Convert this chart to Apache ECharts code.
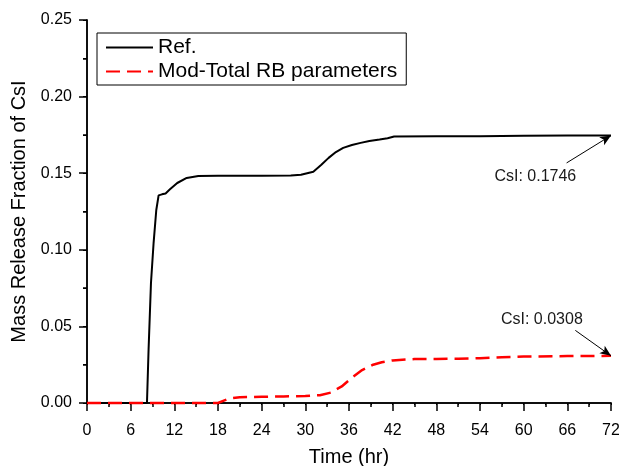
<!DOCTYPE html>
<html>
<head>
<meta charset="utf-8">
<script src="https://cdn.jsdelivr.net/npm/echarts@6/dist/echarts.min.js"></script>
<style>
  html, body { margin: 0; padding: 0; background: #fff; }
  #chart { width: 619px; height: 466px; }
</style>
</head>
<body>
<div id="chart"></div>
<script>
// Ref. curve (time in hr, mass release fraction)
const refTime  = [0, 8.24, 8.46, 8.79, 9.15, 9.52, 9.84, 10.3, 10.8, 11.4, 12.4, 13.7, 15.3, 18, 24, 28, 29.4, 31.1, 32.2, 33.2, 34.2, 35.2, 36.4, 37.6, 38.8, 40.2, 41.3, 42.2, 48, 54, 60, 66, 72];
const refValue = [0, 0, 0.0348, 0.0783, 0.1044, 0.126, 0.1355, 0.1362, 0.1368, 0.1395, 0.1436, 0.1469, 0.1482, 0.1483, 0.1483, 0.1485, 0.149, 0.151, 0.1555, 0.1600, 0.1638, 0.1665, 0.1684, 0.1698, 0.1710, 0.1720, 0.1728, 0.1740, 0.1741, 0.1742, 0.1745, 0.1746, 0.1746];

// Mod-Total RB parameters curve
const modTime  = [0, 18, 18.8, 19.6, 21, 24, 27, 30, 32, 33.5, 35, 36.4, 37.8, 39.2, 40.5, 42, 45, 48, 51, 54, 57, 60, 66, 72];
const modValue = [0, 0, 0.0015, 0.003, 0.0038, 0.0041, 0.0043, 0.0045, 0.0051, 0.0068, 0.0108, 0.0165, 0.0215, 0.0248, 0.0266, 0.0278, 0.0287, 0.0288, 0.0289, 0.0292, 0.0298, 0.0303, 0.0306, 0.0308];

// annotations: text centre, arrow start, arrow end (data coords)
const refNote = { text: 'CsI: 0.1746', at: [61.6, 0.1477], from: [65.9, 0.1567], to: [72, 0.1746] };
const modNote = { text: 'CsI: 0.0308', at: [62.5, 0.0544], from: [67.1, 0.0474], to: [72, 0.0308] };

const FONT = 'Liberation Sans, Arial, sans-serif';

function pairs(xs, ys) {
  return xs.map((x, i) => [x, ys[i]]);
}

function note(n) {
  return {
    markLine: {
      silent: true,
      animation: false,
      symbol: ['none', 'arrow'],
      symbolSize: [7, 11],
      label: { show: false },
      lineStyle: { color: '#000', width: 1, type: 'solid' },
      itemStyle: { color: '#000' },
      data: [[{ coord: n.from }, { coord: n.to }]]
    },
    markPoint: {
      silent: true,
      animation: false,
      symbol: 'circle',
      symbolSize: 1,
      itemStyle: { color: 'rgba(0,0,0,0)' },
      label: {
        show: true,
        position: 'inside',
        formatter: n.text,
        color: '#1a1a1a',
        fontSize: 16,
        fontFamily: FONT
      },
      data: [{ coord: n.at }]
    }
  };
}

const chart = echarts.init(document.getElementById('chart'));

const axisLine = { show: true, lineStyle: { color: '#000', width: 1.5 } };

const option = {
  animation: false,
  backgroundColor: '#fff',
  textStyle: { fontFamily: FONT },
  grid: { left: 87, right: 8, top: 20, bottom: 63, containLabel: false, outerBoundsMode: 'none' },
  legend: {
    left: 97,
    top: 33,
    orient: 'vertical',
    itemWidth: 47,
    itemHeight: 14,
    itemGap: 3,
    padding: [4, 9, 3, 8],
    borderColor: '#000',
    borderWidth: 1,
    backgroundColor: '#fff',
    itemStyle: { opacity: 0 },
    textStyle: { fontSize: 21, color: '#000', fontFamily: FONT },
    data: ['Ref.', 'Mod-Total RB parameters']
  },
  xAxis: [
    {
      type: 'value',
      min: 0, max: 72, interval: 6,
      name: 'Time (hr)',
      nameLocation: 'middle',
      nameGap: 44,
      nameTextStyle: { fontSize: 20, color: '#000' },
      axisLine: axisLine,
      axisTick: { show: true, inside: false, length: 8, lineStyle: { color: '#000', width: 1.5 } },
      minorTick: { show: true, splitNumber: 2, length: 4, lineStyle: { color: '#000', width: 1.5 } },
      axisLabel: { fontSize: 16, color: '#000', margin: 20 },
      splitLine: { show: false }
    },
    {
      type: 'value',
      position: 'top',
      min: 0, max: 72, interval: 6,
      axisLine: axisLine,
      axisTick: { show: true, inside: true, length: 2, lineStyle: { color: '#000' } },
      minorTick: { show: true, splitNumber: 2, length: 2, lineStyle: { color: '#000' } },
      axisLabel: { show: false },
      splitLine: { show: false }
    }
  ],
  yAxis: [
    {
      type: 'value',
      min: 0, max: 0.25, interval: 0.05,
      name: 'Mass Release Fraction of CsI',
      nameLocation: 'middle',
      nameGap: 48,
      nameTextStyle: { fontSize: 20, color: '#000' },
      axisLine: axisLine,
      axisTick: { show: true, inside: false, length: 8, lineStyle: { color: '#000', width: 1.5 } },
      minorTick: { show: true, splitNumber: 2, length: 4, lineStyle: { color: '#000', width: 1.5 } },
      axisLabel: { fontSize: 16, color: '#000', margin: 15, formatter: v => v.toFixed(2) },
      splitLine: { show: false }
    },
    {
      type: 'value',
      position: 'right',
      min: 0, max: 0.25, interval: 0.05,
      axisLine: axisLine,
      axisTick: { show: true, inside: true, length: 4, lineStyle: { color: '#000' } },
      minorTick: { show: true, splitNumber: 2, length: 4, lineStyle: { color: '#000' } },
      axisLabel: { show: false },
      splitLine: { show: false }
    }
  ],
  series: [
    Object.assign({
      name: 'Ref.',
      type: 'line',
      symbol: 'none',
      clip: false,
      color: '#000',
      lineStyle: { color: '#000', width: 2 },
      data: pairs(refTime, refValue)
    }, note(refNote)),
    Object.assign({
      name: 'Mod-Total RB parameters',
      type: 'line',
      symbol: 'none',
      clip: false,
      color: '#ff0000',
      lineStyle: { color: '#ff0000', width: 2.5, type: [14, 7] },
      data: pairs(modTime, modValue)
    }, note(modNote))
  ]
};

chart.setOption(option);
</script>
</body>
</html>
